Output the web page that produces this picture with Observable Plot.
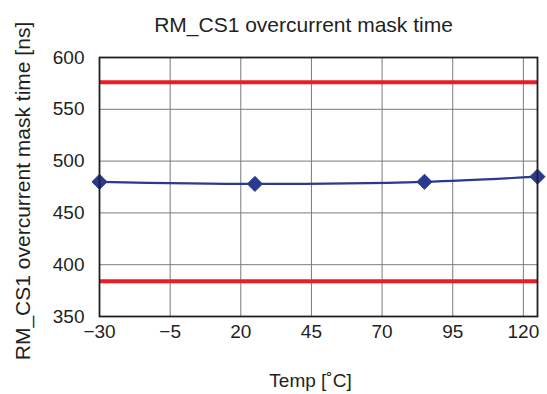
<!DOCTYPE html>
<html>
<head>
<meta charset="utf-8">
<script src="https://cdn.jsdelivr.net/npm/d3@7"></script>
<script src="https://cdn.jsdelivr.net/npm/@observablehq/plot@0.6"></script>
<style>
body { margin: 0; background: #fff; }
svg { font-family: "Liberation Sans", Arial, sans-serif; }
</style>
</head>
<body>
<div id="chart"></div>
<script>
const temps = [-30, 25, 85, 125];
const maskTime = [480, 478, 480, 485];
const limits = [576, 384];
const xTicks = [-30, -5, 20, 45, 70, 95, 120];
const yTicks = [350, 400, 450, 500, 550, 600];
const title = "RM_CS1 overcurrent mask time";
const xLabel = "Temp [˚C]";
const yLabel = "RM_CS1 overcurrent mask time [ns]";

const data = temps.map((t, i) => ({temp: t, value: maskTime[i]}));
const fmt = d => d < 0 ? "\u2212" + Math.abs(d) : String(d);

const chart = Plot.plot({
  width: 547,
  height: 394,
  marginLeft: 99,
  marginRight: 10,
  marginTop: 57,
  marginBottom: 78,
  style: {fontSize: "19px", fontFamily: "'Liberation Sans', Arial, sans-serif", color: "#231f20"},
  x: {domain: [-30, 125], ticks: xTicks, tickFormat: fmt},
  y: {domain: [350, 600], ticks: yTicks},
  marks: [
    Plot.ruleX(xTicks, {stroke: "#7a7a7a", strokeWidth: 1}),
    Plot.ruleY(yTicks, {stroke: "#7a7a7a", strokeWidth: 1}),
    Plot.ruleY(limits, {stroke: "#ed1c24", strokeWidth: 4}),
    Plot.line(data, {x: "temp", y: "value", stroke: "#2b3990", strokeWidth: 2.2, curve: "catmull-rom"}),
    Plot.dot(data, {x: "temp", y: "value", symbol: "diamond2", r: 6.8, fill: "#2b3990", stroke: "#2b3990", strokeWidth: 1}),
    Plot.frame({stroke: "#231f20", strokeWidth: 1.8}),
    Plot.axisX({ticks: xTicks, tickSize: 0, tickPadding: 8, label: null, fontSize: 19, tickFormat: fmt}),
    Plot.axisY({ticks: yTicks, tickSize: 0, tickPadding: 15, label: null, fontSize: 19}),
    Plot.text([title], {frameAnchor: "top", dx: -15, dy: -40, fontSize: 21, fill: "#231f20"}),
    Plot.text([xLabel], {frameAnchor: "bottom", dx: -8, dy: 70, fontSize: 19, fill: "#231f20"}),
    Plot.text([yLabel], {frameAnchor: "left", textAnchor: "middle", dx: -76, dy: 4, rotate: -90, fontSize: 21, fill: "#231f20"})
  ]
});
document.getElementById("chart").appendChild(chart);
</script>
</body>
</html>
